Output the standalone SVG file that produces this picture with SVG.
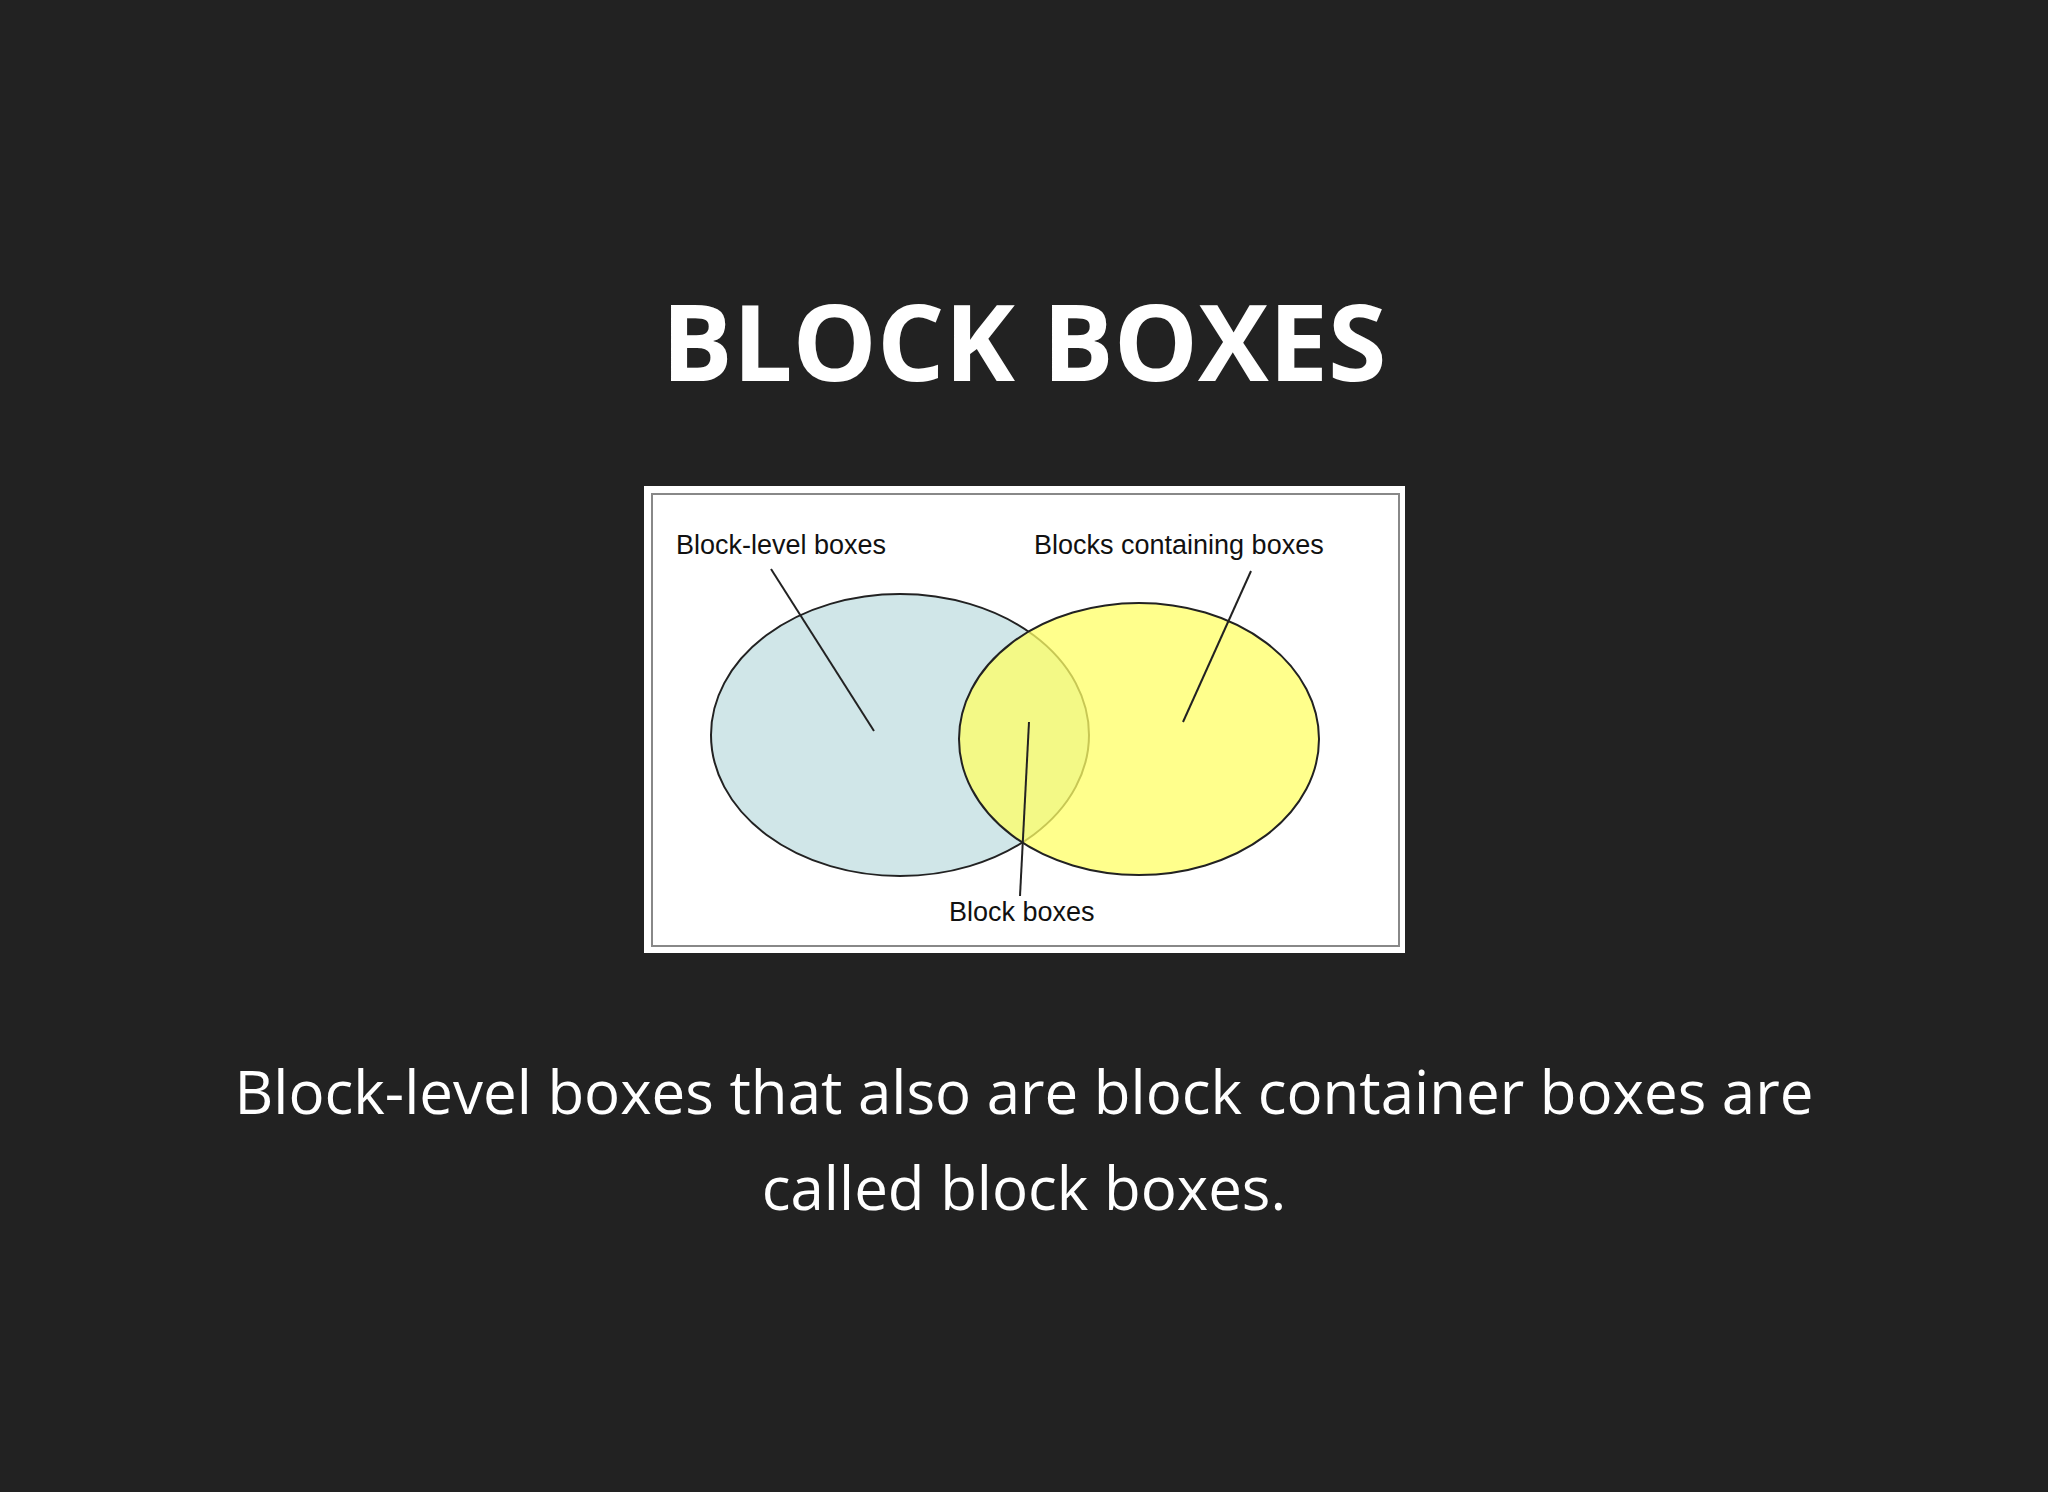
<svg xmlns="http://www.w3.org/2000/svg" width="2048" height="1492" viewBox="0 0 2048 1492">
<style>
.lbl{font-family:"Liberation Sans",Arial,sans-serif;font-size:27px;fill:#111}
.ln{stroke:#222;stroke-width:2;fill:none}
</style>
<rect width="2048" height="1492" fill="#222222"/>
<text x="1024" y="381" text-anchor="middle" font-family="'Open Sans',sans-serif" font-weight="bold" font-size="106" fill="#fff">BLOCK BOXES</text>
<g id="figure">
<rect x="644" y="486" width="761" height="467" fill="#fff"/>
<rect x="652" y="494" width="747" height="452" fill="none" stroke="#888" stroke-width="2"/>
</g>
<g id="block-level">
<ellipse cx="900" cy="735" rx="189" ry="141" fill="#d0e6e8" stroke="#222" stroke-width="2"/>
<text class="lbl" x="676" y="554">Block-level boxes</text>
</g>
<g id="blocks-containing">
<ellipse cx="1139" cy="739" rx="180" ry="136" fill="#ffff66" fill-opacity="0.75" stroke="#222" stroke-width="2"/>
<text class="lbl" x="1034" y="554">Blocks containing boxes</text>
</g>
<g id="block-boxes">
<text class="lbl" x="949" y="921">Block boxes</text>
</g>
<g id="connectors">
<line class="ln" x1="771" y1="569" x2="874" y2="731"/>
<line class="ln" x1="1251" y1="571" x2="1183" y2="722"/>
<line class="ln" x1="1029" y1="722" x2="1020" y2="896"/>
</g>
<text font-family="'Open Sans',sans-serif" font-size="60" fill="#fff" text-anchor="middle"><tspan x="1024" y="1114">Block-level boxes that also are block container boxes are</tspan><tspan x="1024" y="1210">called block boxes.</tspan></text>
</svg>
